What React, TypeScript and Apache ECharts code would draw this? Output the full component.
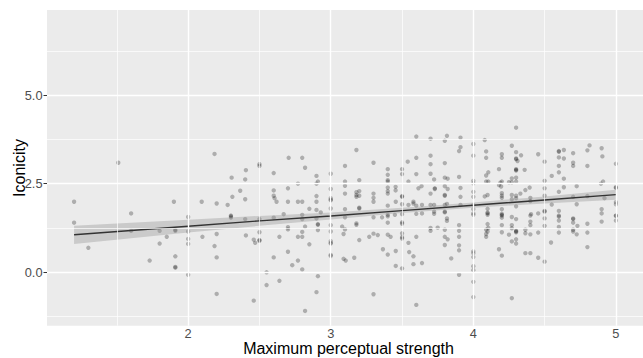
import React, { useEffect, useRef } from "react";
import * as echarts from "echarts";

// Maximum perceptual strength (x) and iconicity (y), one entry per word
const perceptualStrength = [
  1.2, 1.2, 1.3, 1.51, 1.6, 1.6, 1.73, 1.8, 1.8, 1.85, 1.9, 1.91, 1.91, 1.91, 1.91, 1.91, 2.0, 2.0, 2.0, 2.0,
  2.0, 2.095, 2.1, 2.185, 2.2, 2.2, 2.185, 2.2, 2.2, 2.277, 2.31, 2.305, 2.365, 2.4, 2.405, 2.4, 2.3, 2.3, 2.3, 2.4,
  2.405, 2.46, 2.47, 2.46, 2.5, 2.5, 2.5, 2.5, 2.5, 2.5, 2.55, 2.55, 2.6, 2.6, 2.6, 2.606, 2.62, 2.6, 2.6, 2.64,
  2.64, 2.67, 2.705, 2.7, 2.7, 2.7, 2.7, 2.7, 2.73, 2.77, 2.77, 2.77, 2.77, 2.8, 2.82, 2.8, 2.8, 2.8, 2.82, 2.8,
  2.8, 2.8, 2.82, 2.85, 2.85, 2.9, 2.9, 2.91, 2.9, 2.9, 2.9, 2.93, 2.9, 2.91, 2.91, 2.91, 2.91, 2.9, 3.0, 3.0,
  3.0, 3.0, 3.0, 3.0, 3.0, 3.0, 3.0, 3.0, 3.0, 3.0, 3.0, 3.1, 3.1, 3.1, 3.1, 3.1, 3.1, 3.08, 3.1, 3.09,
  3.09, 3.105, 3.165, 3.18, 3.2, 3.2, 3.2, 3.18, 3.18, 3.18, 3.2, 3.2, 3.18, 3.18, 3.2, 3.27, 3.3, 3.3, 3.3, 3.3,
  3.3, 3.3, 3.3, 3.33, 3.36, 3.366, 3.4, 3.4, 3.4, 3.4, 3.4, 3.4, 3.4, 3.4, 3.4, 3.4, 3.4, 3.4, 3.42, 3.4,
  3.455, 3.455, 3.456, 3.45, 3.456, 3.456, 3.5, 3.5, 3.5, 3.5, 3.5, 3.5, 3.5, 3.5, 3.5, 3.5, 3.5, 3.5, 3.54, 3.545,
  3.545, 3.545, 3.55, 3.58, 3.58, 3.58, 3.58, 3.6, 3.6, 3.6, 3.615, 3.637, 3.6, 3.64, 3.64, 3.6, 3.6, 3.6, 3.64, 3.7,
  3.7, 3.7, 3.7, 3.725, 3.73, 3.73, 3.7, 3.7, 3.725, 3.725, 3.725, 3.7, 3.7, 3.75, 3.8, 3.815, 3.8, 3.8, 3.82, 3.8,
  3.82, 3.8, 3.8, 3.815, 3.8, 3.8, 3.8, 3.815, 3.815, 3.8, 3.8, 3.82, 3.8, 3.845, 3.91, 3.91, 3.9, 3.9, 3.91, 3.91,
  3.91, 3.9, 3.9, 3.9, 3.9, 3.9, 3.9, 4.0, 4.0, 4.0, 4.0, 4.0, 4.0, 4.0, 4.0, 4.0, 4.0, 4.0, 4.0, 4.0,
  4.0, 4.0, 4.0, 4.0, 4.08, 4.09, 4.09, 4.105, 4.09, 4.09, 4.105, 4.08, 4.1, 4.1, 4.1, 4.1, 4.1, 4.1, 4.105, 4.09,
  4.1, 4.09, 4.09, 4.18, 4.2, 4.2, 4.19, 4.2, 4.18, 4.195, 4.2, 4.2, 4.2, 4.2, 4.2, 4.2, 4.2, 4.2, 4.2, 4.2,
  4.18, 4.2, 4.25, 4.25, 4.27, 4.27, 4.27, 4.27, 4.27, 4.27, 4.27, 4.27, 4.27, 4.27, 4.3, 4.3, 4.3, 4.3, 4.31, 4.3,
  4.3, 4.3, 4.3, 4.3, 4.3, 4.3, 4.3, 4.3, 4.3, 4.3, 4.3, 4.3, 4.3, 4.335, 4.33, 4.36, 4.365, 4.365, 4.365, 4.365,
  4.395, 4.4, 4.4, 4.4, 4.405, 4.4, 4.4, 4.4, 4.4, 4.455, 4.455, 4.455, 4.455, 4.5, 4.5, 4.5, 4.5, 4.5, 4.5, 4.5,
  4.5, 4.5, 4.55, 4.55, 4.545, 4.6, 4.6, 4.635, 4.6, 4.635, 4.6, 4.6, 4.635, 4.635, 4.6, 4.6, 4.6, 4.6, 4.6, 4.6,
  4.6, 4.7, 4.7, 4.7, 4.725, 4.7, 4.725, 4.7, 4.7, 4.7, 4.7, 4.73, 4.725, 4.7, 4.8, 4.815, 4.8, 4.8, 4.8, 4.8,
  4.8, 4.9, 4.905, 4.91, 4.895, 4.92, 4.9, 4.9, 4.9, 5.0, 5.0, 5.0, 5.0, 5.0, 5.0, 5.0, 5.0,
];

const iconicity = [
  1.99, 1.4, 0.69, 3.09, 1.66, 1.17, 0.33, 1.17, 0.81, 1.0, 1.99, 1.2, 1.17, 0.45, 0.15, 0.13, 1.56, 1.15, 0.94, 0.8,
  -0.07, 1.99, 1.0, 3.34, 1.94, 1.08, 0.74, 0.42, -0.61, 1.9, 2.13, 2.67, 2.3, 2.62, 2.88, 2.06, 1.6, 1.58, 1.54, 1.5,
  1.04, 0.92, 0.83, -0.8, 3.05, 3.0, 1.5, 1.13, 0.91, 0.89, 0.0, -0.36, 2.8, 2.31, 2.16, 2.09, 1.99, 1.54, 0.42, 1.0,
  -0.24, 1.64, 3.23, 2.37, 1.99, 1.27, 1.21, 0.58, 0.2, 2.5, 1.99, 1.0, 0.33, 3.23, 2.95, 1.99, 1.62, 1.5, 1.29, 1.14,
  1.0, 0.08, -1.09, 1.79, 0.79, 2.72, 2.5, 2.56, 2.15, 1.99, 1.76, 1.69, 1.52, 1.36, 1.34, 1.19, -0.11, -0.56, 2.78, 2.35,
  2.09, 2.03, 2.05, 1.8, 1.33, 1.15, 0.88, 0.81, 0.83, 0.49, 0.46, 3.0, 2.56, 2.44, 2.22, 1.78, 1.55, 1.29, 1.21, 1.08,
  0.38, 0.33, 0.41, 3.45, 2.6, 2.29, 2.16, 2.13, 2.18, 2.26, 1.8, 1.82, 1.38, 1.34, 0.91, 1.0, 3.09, 2.22, 2.1, 1.99,
  1.55, 1.09, -0.62, 1.05, 1.55, 0.65, 2.91, 2.75, 2.6, 2.56, 2.39, 2.29, 2.22, 1.88, 1.62, 1.58, 1.4, 1.06, 1.0, 0.5,
  2.31, 2.41, 1.99, 1.62, 0.6, 0.18, 2.91, 2.77, 2.15, 2.13, 1.92, 1.64, 1.41, 1.37, 1.1, 0.99, 0.95, 0.11, 3.12, 2.56,
  1.9, 0.83, 0.57, 1.99, 1.94, 0.45, 0.23, 3.83, 3.23, 2.77, 2.37, 2.43, 1.88, 1.9, 1.66, 1.65, 1.0, -0.92, 0.26, 3.77,
  3.29, 3.05, 2.78, 2.62, 2.37, 2.35, 2.22, 1.9, 1.9, 1.71, 1.65, 1.25, 1.17, 1.26, 3.71, 3.85, 3.08, 2.67, 2.64, 2.43,
  2.35, 2.18, 2.16, 1.93, 1.9, 1.69, 1.71, 1.52, 1.45, 1.2, 1.0, 0.93, 0.77, 0.39, 3.8, 3.53, 3.42, 2.69, 2.38, 2.13,
  1.9, 1.33, 1.17, 1.0, 0.76, 0.62, -0.07, 3.62, 3.29, 2.58, 2.51, 2.27, 2.13, 1.9, 1.78, 1.66, 1.62, 0.59, 0.54, 0.43,
  0.17, 0.06, -0.27, -0.7, 3.73, 3.41, 3.23, 2.82, 2.73, 2.56, 2.56, 2.14, 2.18, 1.79, 1.66, 1.68, 1.62, 1.36, 1.25, 1.2,
  1.15, 1.08, 1.0, 2.91, 3.33, 3.23, 2.53, 2.56, 2.46, 2.42, 2.23, 2.16, 2.1, 1.78, 1.65, 1.6, 1.62, 1.54, 1.33, 1.13,
  0.65, 0.47, 2.54, 1.06, 3.57, 2.65, 2.54, 2.18, 2.06, 1.56, 1.33, 1.24, 0.87, -0.73, 4.08, 3.39, 3.19, 3.21, 3.14, 2.91,
  2.89, 2.87, 2.67, 2.56, 2.16, 2.09, 1.86, 1.5, 1.17, 1.13, 1.15, 0.93, 0.81, 3.3, 2.22, 2.89, 2.32, 1.2, 1.1, 0.54,
  2.39, 2.1, 2.01, 1.6, 1.64, 1.43, 1.33, 1.07, 0.54, 3.33, 1.66, 1.12, 0.41, 3.12, 2.58, 2.37, 2.16, 1.71, 1.73, 1.52,
  1.31, 0.3, 2.72, 1.91, 0.84, 3.4, 3.42, 3.45, 3.24, 3.21, 3.0, 2.82, 2.64, 2.4, 2.27, 1.73, 1.6, 1.57, 1.46, 1.28,
  1.12, 3.36, 3.09, 3.0, 2.43, 2.13, 1.92, 1.52, 1.5, 1.4, 1.2, 1.31, 1.07, 1.15, 3.44, 3.58, 3.0, 2.15, 1.37, 1.12,
  0.71, 3.5, 3.27, 2.56, 2.5, 2.09, 1.78, 1.66, 1.43, 3.06, 2.4, 2.38, 1.98, 1.92, 1.6, 1.59, 1.46,
];

// Linear fit and its confidence band
const fitX = [1.2, 1.6, 2.0, 2.5, 3.0, 3.5, 4.0, 4.5, 5.0];
const fitY = [1.06, 1.18, 1.3, 1.45, 1.59, 1.74, 1.89, 2.04, 2.19];
const bandLower = [0.8, 0.96, 1.12, 1.31, 1.49, 1.67, 1.82, 1.94, 2.05];
const bandUpper = [1.31, 1.4, 1.48, 1.59, 1.69, 1.82, 1.97, 2.14, 2.33];

// Axis ticks and grid lines
const xTicks = [2, 3, 4, 5];
const xMinor = [1.5, 2.5, 3.5, 4.5];
const yTicks = [0, 2.5, 5];
const yMinor = [-1.25, 1.25, 3.75, 6.25];

const xTitle = "Maximum perceptual strength";
const yTitle = "Iconicity";

const FONT = "'Liberation Sans', Arial, Helvetica, sans-serif";

export default function App() {
  const ref = useRef<HTMLDivElement>(null);

  useEffect(() => {
    if (!ref.current) return;
    const chart = echarts.init(ref.current, undefined, { renderer: "svg" });

    const points = perceptualStrength.map((x, i) => [x, iconicity[i]]);
    const bandData = fitX.map((x, i) => [x, bandLower[i], bandUpper[i]]);
    const gridLine = (width: number) => ({
      silent: true,
      symbol: "none",
      label: { show: false },
      emphasis: { disabled: true },
      lineStyle: { color: "#FFFFFF", width, type: "solid" as const, opacity: 1 },
    });

    chart.setOption({
      animation: false,
      grid: {
        left: 47,
        top: 10,
        right: -7,
        bottom: 32.3,
        show: true,
        backgroundColor: "#EBEBEB",
        borderWidth: 0,
      },
      xAxis: {
        type: "value",
        min: 1.01,
        max: 5.19,
        axisLine: { show: false },
        splitLine: { show: false },
        axisTick: {
          show: true,
          customValues: xTicks,
          length: 3.5,
          lineStyle: { color: "#333333", width: 1 },
        },
        axisLabel: {
          customValues: xTicks,
          color: "#4D4D4D",
          fontSize: 12.8,
          lineHeight: 9,
          fontFamily: FONT,
          margin: 3.6,
          formatter: (v: number) => String(v),
        },
      },
      yAxis: {
        type: "value",
        min: -1.507,
        max: 7.4,
        axisLine: { show: false },
        splitLine: { show: false },
        axisTick: {
          show: true,
          customValues: yTicks,
          length: 3.5,
          lineStyle: { color: "#333333", width: 1 },
        },
        axisLabel: {
          customValues: yTicks,
          color: "#4D4D4D",
          fontSize: 12.8,
          lineHeight: 10,
          fontFamily: FONT,
          margin: 4.5,
          formatter: (v: number) => v.toFixed(1),
        },
      },
      graphic: [
        {
          type: "text",
          x: 348.5,
          y: 348.8,
          style: {
            text: xTitle,
            fill: "#000000",
            font: `16px ${FONT}`,
            lineHeight: 12,
            align: "center",
            verticalAlign: "middle",
          },
        },
        {
          type: "text",
          x: 19.5,
          y: 168,
          rotation: Math.PI / 2,
          style: {
            text: yTitle,
            fill: "#000000",
            font: `16px ${FONT}`,
            lineHeight: 12,
            align: "center",
            verticalAlign: "middle",
          },
        },
      ],
      series: [
        {
          type: "scatter",
          data: [],
          z: 0,
          markLine: {
            ...gridLine(0.7),
            data: [
              ...xMinor.map((v) => ({ xAxis: v })),
              ...yMinor.map((v) => ({ yAxis: v })),
            ],
          },
        },
        {
          type: "scatter",
          data: [],
          z: 0,
          markLine: {
            ...gridLine(1.4),
            data: [
              ...xTicks.map((v) => ({ xAxis: v })),
              ...yTicks.map((v) => ({ yAxis: v })),
            ],
          },
        },
        {
          type: "scatter",
          data: points,
          symbolSize: 4.4,
          z: 2,
          itemStyle: { color: "rgba(0,0,0,0.33)", borderWidth: 0 },
          emphasis: { disabled: true },
        },
        {
          type: "custom",
          data: bandData,
          z: 3,
          silent: true,
          encode: { x: 0, y: [1, 2] },
          renderItem: (params: any, api: any) => {
            if (params.dataIndex !== 0) return null;
            const upper = bandData.map((d) => api.coord([d[0], d[2]]));
            const lower = bandData.map((d) => api.coord([d[0], d[1]])).reverse();
            return {
              type: "polygon",
              shape: { points: [...upper, ...lower] },
              style: { fill: "rgba(153,153,153,0.4)", stroke: "none" },
            };
          },
        },
        {
          type: "line",
          data: fitX.map((x, i) => [x, fitY[i]]),
          symbol: "none",
          z: 4,
          lineStyle: { color: "#333333", width: 1.4 },
          emphasis: { disabled: true },
        },
      ],
    });

    return () => chart.dispose();
  }, []);

  return (
    <div
      ref={ref}
      style={{ position: "fixed", left: 0, top: 0, width: 643, height: 358, background: "#FFFFFF" }}
    />
  );
}
